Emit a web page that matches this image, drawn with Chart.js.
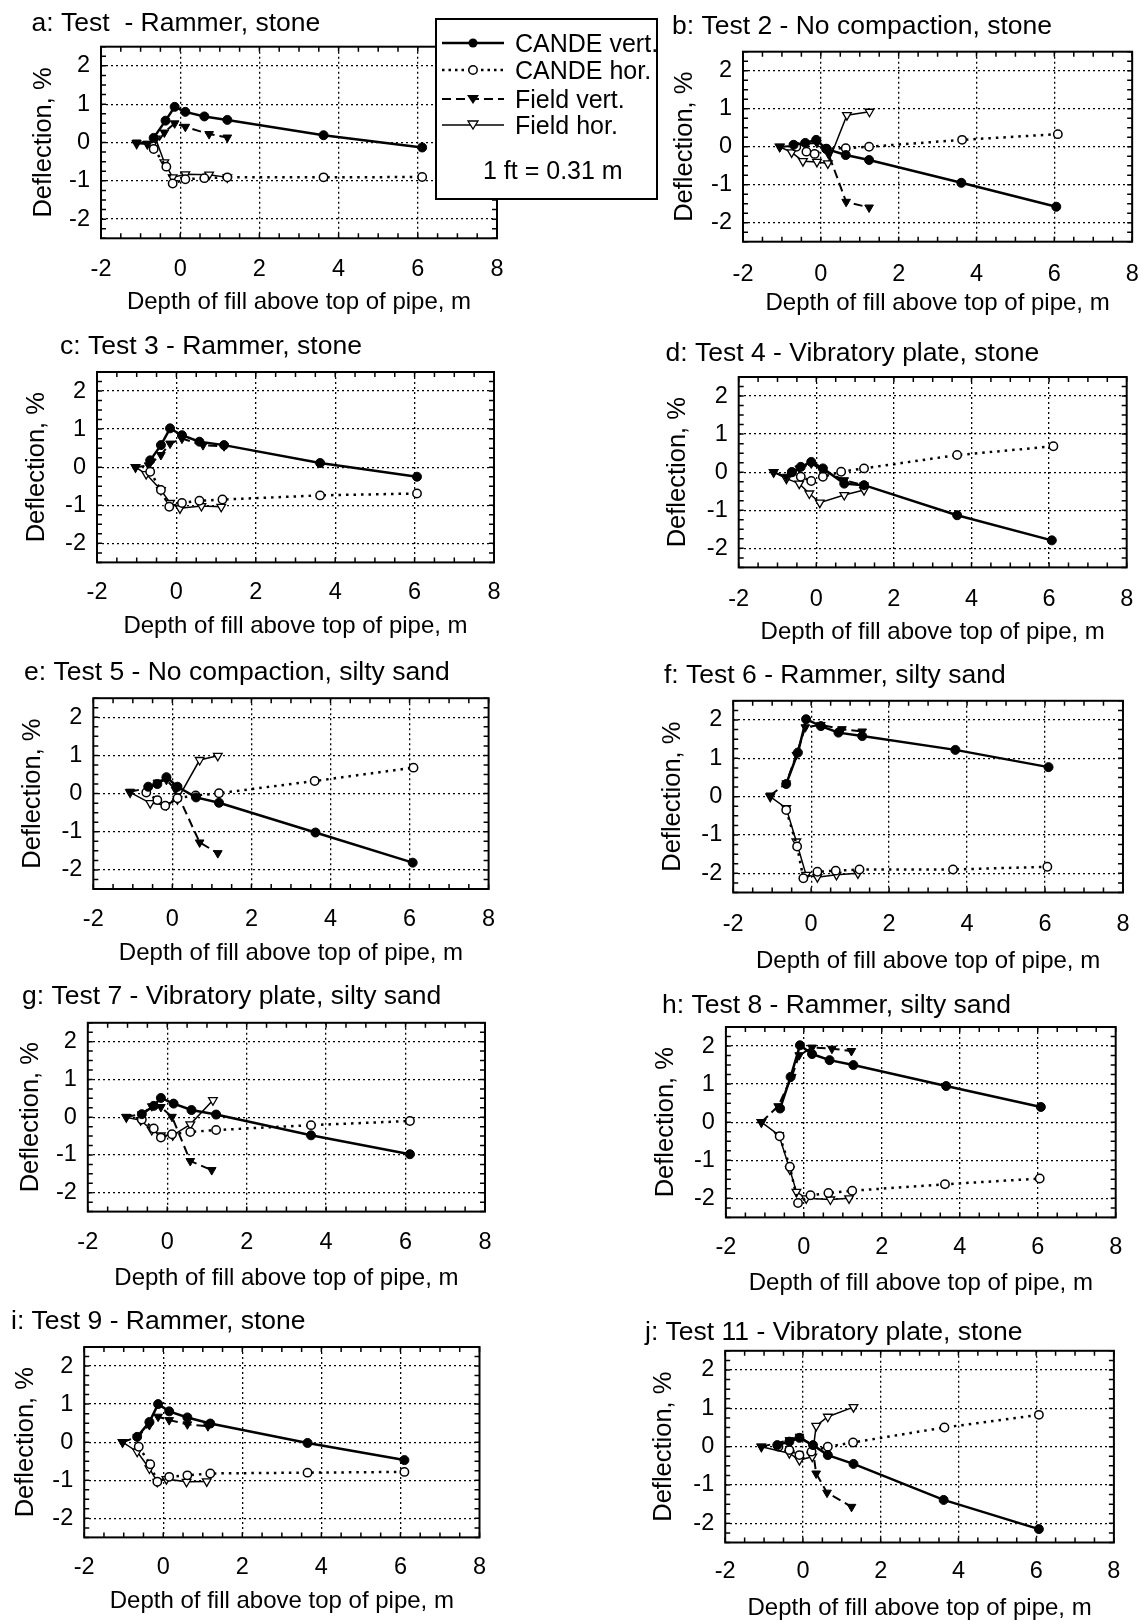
<!DOCTYPE html>
<html>
<head>
<meta charset="utf-8">
<script src="https://cdn.jsdelivr.net/npm/chart.js@4.4.1/dist/chart.umd.min.js"></script>
<style>
  body { margin: 0; background: #fff; width: 1148px; height: 1624px; overflow: hidden; position: relative;
         font-family: 'Liberation Sans', Arial, sans-serif; }
  canvas { position: absolute; }
  #legend { position: absolute; left: 435px; top: 18px; width: 223px; height: 182px; box-sizing: border-box;
            border: 2px solid #000; background: #fff; z-index: 5; }
  #legend .row { position: absolute; left: 5px; height: 26px; }
  #legend svg { position: absolute; left: 0; top: 5px; }
  #legend span { position: absolute; left: 73px; top: 0; font-size: 25px; line-height: 26px; color: #000; white-space: nowrap; }
  #legend .note { position: absolute; left: 46px; top: 137px; font-size: 25px; line-height: 26px; white-space: nowrap; }
</style>
</head>
<body>

<div id="legend">
  <div class="row" style="top:10px">
    <svg width="62" height="16"><line x1="0" y1="8" x2="62" y2="8" stroke="#000" stroke-width="2.5"/><circle cx="31" cy="8" r="4.5" fill="#000"/></svg>
    <span>CANDE vert.</span>
  </div>
  <div class="row" style="top:37px">
    <svg width="62" height="16"><line x1="0" y1="8" x2="62" y2="8" stroke="#000" stroke-width="2.5" stroke-dasharray="2.5 4"/><circle cx="31" cy="8" r="4.2" fill="#fff" stroke="#000" stroke-width="1.5"/></svg>
    <span>CANDE hor.</span>
  </div>
  <div class="row" style="top:66px">
    <svg width="62" height="16"><line x1="0" y1="8" x2="62" y2="8" stroke="#000" stroke-width="2" stroke-dasharray="9 5"/><polygon points="25,4 37,4 31,13" fill="#000"/></svg>
    <span>Field vert.</span>
  </div>
  <div class="row" style="top:92px">
    <svg width="62" height="16"><line x1="0" y1="8" x2="62" y2="8" stroke="#000" stroke-width="1.5"/><polygon points="26,4 36,4 31,12" fill="#fff" stroke="#000" stroke-width="1.3"/></svg>
    <span>Field hor.</span>
  </div>
  <div class="note">1 ft = 0.31 m</div>
</div>

<script>
// axes
const xTicks = [-2, 0, 2, 4, 6, 8];
const yTicks = [-2, -1, 0, 1, 2];
const xTitle = 'Depth of fill above top of pipe, m';
const yTitle = 'Deflection, %';

// [depth m, deflection %]
// a: Test - Rammer, stone
const aCandeVert = [[-0.67,0.12],[-0.37,0.57],[-0.14,0.93],[0.13,0.80],[0.61,0.68],[1.19,0.59],[3.62,0.19],[6.11,-0.13]];
const aCandeHor  = [[-0.67,-0.17],[-0.35,-0.63],[-0.19,-1.07],[0.13,-0.96],[0.61,-0.93],[1.19,-0.91],[3.62,-0.91],[6.11,-0.90]];
const aFieldVert = [[-1.1,0],[-0.83,-0.03],[-0.67,-0.15],[-0.4,0.26],[-0.14,0.5],[0.13,0.41],[0.73,0.22],[1.19,0.13]];
const aFieldHor  = [[-1.1,-0.03],[-0.83,-0.04],[-0.62,0.1],[-0.4,-0.52],[-0.19,-0.91],[0.13,-0.83],[0.73,-0.84],[1.19,-0.91]];

// b: Test 2 - No compaction, stone
const bCandeVert = [[-0.7,0.05],[-0.4,0.1],[-0.12,0.18],[0.14,-0.06],[0.64,-0.22],[1.24,-0.35],[3.61,-0.95],[6.05,-1.58]];
const bCandeHor  = [[-0.63,0],[-0.37,-0.13],[-0.16,-0.19],[0.14,-0.05],[0.64,-0.04],[1.24,0.0],[3.63,0.18],[6.09,0.33]];
const bFieldVert = [[-1.05,0],[-0.7,0.02],[-0.4,0.08],[-0.1,0.1],[0.2,-0.2],[0.65,-1.45],[1.24,-1.6]];
const bFieldHor  = [[-1.06,0],[-0.75,-0.15],[-0.46,-0.38],[-0.1,-0.4],[0.18,-0.44],[0.67,0.83],[1.25,0.92]];

// c: Test 3 - Rammer, stone
const cCandeVert = [[-0.66,0.18],[-0.39,0.58],[-0.16,1.02],[0.14,0.84],[0.58,0.67],[1.2,0.58],[3.62,0.11],[6.06,-0.25]];
const cCandeHor  = [[-0.66,-0.12],[-0.39,-0.6],[-0.18,-1.04],[0.14,-0.94],[0.58,-0.88],[1.16,-0.85],[3.62,-0.74],[6.06,-0.69]];
const cFieldVert = [[-1.03,0],[-0.7,0.05],[-0.39,0.32],[-0.16,0.62],[0.14,0.75],[0.67,0.58],[1.2,0.55]];
const cFieldHor  = [[-1.03,0],[-0.76,-0.18],[-0.39,-0.6],[-0.16,-0.94],[0.09,-1.08],[0.63,-1.02],[1.13,-1.04]];

// d: Test 4 - Vibratory plate, stone
const dCandeVert = [[-0.63,0],[-0.4,0.14],[-0.13,0.27],[0.17,0.1],[0.72,-0.3],[1.23,-0.34],[3.63,-1.13],[6.07,-1.79]];
const dCandeHor  = [[-0.63,0],[-0.4,-0.12],[-0.13,-0.23],[0.17,-0.12],[0.64,0.01],[1.23,0.1],[3.63,0.45],[6.11,0.68]];
const dFieldVert = [[-1.1,0],[-0.77,-0.12],[-0.44,0.1],[-0.13,0.23],[0.17,0.05],[0.72,-0.21],[1.23,-0.34]];
const dFieldHor  = [[-1.1,0],[-0.77,-0.17],[-0.44,-0.3],[-0.18,-0.56],[0.09,-0.8],[0.72,-0.6],[1.23,-0.47]];

// e: Test 5 - No compaction, silty sand
const eCandeVert = [[-0.61,0.18],[-0.38,0.25],[-0.15,0.43],[0.13,0.18],[0.6,-0.1],[1.18,-0.24],[3.62,-1.02],[6.08,-1.81]];
const eCandeHor  = [[-0.66,0.03],[-0.38,-0.17],[-0.18,-0.32],[0.13,-0.12],[0.59,-0.05],[1.18,0.01],[3.6,0.33],[6.1,0.68]];
const eFieldVert = [[-1.07,0.05],[-0.6,0.15],[-0.38,0.29],[-0.15,0.36],[0.08,0.1],[0.69,-1.28],[1.15,-1.56]];
const eFieldHor  = [[-1.07,0.03],[-0.56,-0.25],[-0.15,-0.3],[0.13,-0.15],[0.69,0.88],[1.15,0.99]];

// f: Test 6 - Rammer, silty sand
const fCandeVert = [[-0.64,0.33],[-0.34,1.15],[-0.13,2.02],[0.25,1.84],[0.7,1.67],[1.31,1.58],[3.7,1.22],[6.09,0.77]];
const fCandeHor  = [[-0.64,-0.35],[-0.36,-1.3],[-0.2,-2.13],[0.16,-1.96],[0.63,-1.93],[1.24,-1.9],[3.64,-1.9],[6.06,-1.83]];
const fFieldVert = [[-1.05,0.03],[-0.64,0.35],[-0.38,1.09],[-0.15,1.81],[0.25,1.87],[0.79,1.76],[1.31,1.7]];
const fFieldHor  = [[-1.05,0],[-0.64,-0.3],[-0.38,-1.17],[-0.13,-2.04],[0.16,-2.1],[0.65,-2.04],[1.2,-2.0]];

// g: Test 7 - Vibratory plate, silty sand
const gCandeVert = [[-0.64,0.08],[-0.34,0.3],[-0.16,0.51],[0.16,0.36],[0.61,0.19],[1.23,0.07],[3.62,-0.48],[6.11,-0.98]];
const gCandeHor  = [[-0.64,-0.06],[-0.34,-0.3],[-0.16,-0.54],[0.12,-0.45],[0.58,-0.39],[1.23,-0.34],[3.62,-0.21],[6.11,-0.1]];
const gFieldVert = [[-1.03,0.01],[-0.64,0.08],[-0.39,0.29],[-0.16,0.27],[0.12,0.01],[0.58,-1.16],[1.12,-1.4]];
const gFieldHor  = [[-1.03,0],[-0.67,-0.08],[-0.39,-0.34],[-0.16,-0.48],[0.14,-0.48],[0.58,-0.19],[1.15,0.45]];

// h: Test 8 - Rammer, silty sand
const hCandeVert = [[-0.61,0.36],[-0.34,1.19],[-0.1,2.02],[0.21,1.79],[0.66,1.63],[1.27,1.5],[3.65,0.95],[6.08,0.4]];
const hCandeHor  = [[-0.62,-0.37],[-0.36,-1.17],[-0.15,-2.12],[0.17,-1.92],[0.63,-1.86],[1.24,-1.8],[3.62,-1.63],[6.05,-1.48]];
const hFieldVert = [[-1.09,0],[-0.66,0.42],[-0.31,1.19],[-0.12,1.76],[0.21,1.96],[0.72,1.93],[1.22,1.87]];
const hFieldHor  = [[-1.09,0],[-0.64,-0.34],[-0.36,-1.24],[-0.19,-1.83],[0.06,-2.0],[0.68,-2.03],[1.16,-2.0]];

// i: Test 9 - Rammer, stone
const iCandeVert = [[-0.66,0.14],[-0.35,0.53],[-0.13,1.0],[0.15,0.81],[0.61,0.65],[1.19,0.49],[3.65,-0.02],[6.1,-0.47]];
const iCandeHor  = [[-0.62,-0.12],[-0.33,-0.58],[-0.15,-1.04],[0.15,-0.91],[0.61,-0.87],[1.19,-0.82],[3.65,-0.8],[6.1,-0.78]];
const iFieldVert = [[-1.03,0],[-0.66,0.14],[-0.35,0.45],[-0.13,0.67],[0.15,0.58],[0.61,0.47],[1.13,0.42]];
const iFieldHor  = [[-1.03,0],[-0.66,-0.25],[-0.35,-0.69],[-0.15,-1.04],[0.08,-0.97],[0.59,-1.04],[1.1,-1.03]];

// j: Test 11 - Vibratory plate, stone
const jCandeVert = [[-0.66,0.04],[-0.35,0.13],[-0.09,0.23],[0.26,0.04],[0.64,-0.22],[1.3,-0.45],[3.62,-1.39],[6.07,-2.15]];
const jCandeHor  = [[-0.63,0],[-0.35,-0.09],[-0.09,-0.22],[0.22,-0.13],[0.64,0.0],[1.29,0.11],[3.64,0.5],[6.07,0.83]];
const jFieldVert = [[-1.07,0],[-0.35,0.17],[-0.09,0.26],[0.24,0.04],[0.34,-0.7],[0.62,-1.2],[1.25,-1.57]];
const jFieldHor  = [[-1.07,0],[-0.35,-0.17],[-0.09,-0.35],[0.24,-0.26],[0.34,0.54],[0.64,0.78],[1.3,1.03]];

// page layout of each panel (plot box edges, title spot, tick / axis title rows)
const panels = [
  { title: 'a: Test  - Rammer, stone', L: 101, R: 497, T: 46.7, B: 238.3, tx: 31.6, ty: 24, tickY: 268, xtY: 302, ylX: 44,
    d: [aCandeVert, aCandeHor, aFieldVert, aFieldHor] },
  { title: 'b: Test 2 - No compaction, stone', L: 743, R: 1133, T: 51.7, B: 241.7, tx: 672, ty: 26.7, tickY: 273, xtY: 303, ylX: 685,
    d: [bCandeVert, bCandeHor, bFieldVert, bFieldHor] },
  { title: 'c: Test 3 - Rammer, stone', L: 97, R: 494, T: 372, B: 562.4, tx: 60, ty: 347, tickY: 591.7, xtY: 626.7, ylX: 36.6,
    d: [cCandeVert, cCandeHor, cFieldVert, cFieldHor] },
  { title: 'd: Test 4 - Vibratory plate, stone', L: 738.7, R: 1126.7, T: 377, B: 567.4, tx: 665.5, ty: 354, tickY: 598, xtY: 632, ylX: 678,
    d: [dCandeVert, dCandeHor, dFieldVert, dFieldHor] },
  { title: 'e: Test 5 - No compaction, silty sand', L: 93.3, R: 488.6, T: 698.2, B: 889, tx: 24, ty: 672.5, tickY: 918, xtY: 953, ylX: 33,
    d: [eCandeVert, eCandeHor, eFieldVert, eFieldHor] },
  { title: 'f: Test 6 - Rammer, silty sand', L: 733.2, R: 1123, T: 700.8, B: 892.5, tx: 664, ty: 675.8, tickY: 923, xtY: 961.7, ylX: 673,
    d: [fCandeVert, fCandeHor, fFieldVert, fFieldHor] },
  { title: 'g: Test 7 - Vibratory plate, silty sand', L: 87.8, R: 485, T: 1022.8, B: 1211.6, tx: 22, ty: 996.7, tickY: 1241.7, xtY: 1278, ylX: 31,
    d: [gCandeVert, gCandeHor, gFieldVert, gFieldHor] },
  { title: 'h: Test 8 - Rammer, silty sand', L: 725.9, R: 1115.7, T: 1027, B: 1217.4, tx: 662, ty: 1005.8, tickY: 1246.7, xtY: 1283, ylX: 665.5,
    d: [hCandeVert, hCandeHor, hFieldVert, hFieldHor] },
  { title: 'i: Test 9 - Rammer, stone', L: 84.2, R: 479.5, T: 1347, B: 1537.4, tx: 11, ty: 1321.7, tickY: 1566.7, xtY: 1601.7, ylX: 25.6,
    d: [iCandeVert, iCandeHor, iFieldVert, iFieldHor] },
  { title: 'j: Test 11 - Vibratory plate, stone', L: 725.2, R: 1113.9, T: 1350.8, B: 1542.5, tx: 645, ty: 1332.5, tickY: 1570, xtY: 1608.3, ylX: 663.7,
    d: [jCandeVert, jCandeHor, jFieldVert, jFieldHor] }
];

const FONT = "'Liberation Sans', Arial, sans-serif";
const X_FONT = 24, Y_FONT = 25.5, TICK_FONT = 23.5, TITLE_FONT = 26.5;
Chart.defaults.font.family = FONT;
Chart.defaults.color = '#000';

// plot frame with small inward ticks
const framePlugin = {
  id: 'frame',
  beforeDatasetsDraw(chart) {
    const { ctx, chartArea: a, scales: { x, y } } = chart;
    ctx.save();
    ctx.strokeStyle = '#000';
    ctx.lineWidth = 1.5;
    ctx.beginPath();
    for (let v = -2; v <= 8.001; v += 0.5) {
      const px = x.getPixelForValue(v);
      ctx.moveTo(px, a.bottom); ctx.lineTo(px, a.bottom - 5);
      ctx.moveTo(px, a.top); ctx.lineTo(px, a.top + 5);
    }
    for (let v = -2.5; v <= 2.501; v += 0.25) {
      const py = y.getPixelForValue(v);
      ctx.moveTo(a.left, py); ctx.lineTo(a.left + 5, py);
      ctx.moveTo(a.right, py); ctx.lineTo(a.right - 5, py);
    }
    ctx.stroke();
    ctx.lineWidth = 2;
    ctx.strokeRect(a.left, a.top, a.right - a.left, a.bottom - a.top);
    ctx.restore();
  }
};

// panel caption, left aligned above the plot
const captionPlugin = {
  id: 'caption',
  afterDraw(chart, args, opts) {
    const { ctx } = chart;
    ctx.save();
    ctx.font = TITLE_FONT + 'px ' + FONT;
    ctx.fillStyle = '#000';
    ctx.textBaseline = 'middle';
    ctx.textAlign = 'left';
    ctx.fillText(opts.text, opts.x, opts.y);
    ctx.restore();
  }
};

function makeDatasets(d) {
  return [
    { label: 'CANDE vert.', data: d[0], showLine: true, borderColor: '#000', borderWidth: 2.5,
      pointStyle: 'circle', pointRadius: 4.5, pointBackgroundColor: '#000', pointBorderColor: '#000', pointBorderWidth: 1 },
    { label: 'CANDE hor.', data: d[1], showLine: true, borderColor: '#000', borderWidth: 2.5, borderDash: [2.5, 5],
      pointStyle: 'circle', pointRadius: 4.2, pointBackgroundColor: '#fff', pointBorderColor: '#000', pointBorderWidth: 1.5 },
    { label: 'Field vert.', data: d[2], showLine: true, borderColor: '#000', borderWidth: 2, borderDash: [9, 5],
      pointStyle: 'triangle', rotation: 180, pointRadius: 5, pointBackgroundColor: '#000', pointBorderColor: '#000', pointBorderWidth: 1 },
    { label: 'Field hor.', data: d[3], showLine: true, borderColor: '#000', borderWidth: 1.5,
      pointStyle: 'triangle', rotation: 180, pointRadius: 5, pointBackgroundColor: '#fff', pointBorderColor: '#000', pointBorderWidth: 1.3 }
  ];
}

panels.forEach(p => {
  const yLh = Y_FONT * 1.2, xLh = X_FONT * 1.2;
  const scaleLeft = p.ylX - yLh / 2;          // y title centre sits lh/2 inside the scale box
  const cl = Math.floor(Math.min(p.tx - 2, scaleLeft - 2));
  const ct = Math.floor(p.ty - 22);
  const xH = p.xtY + xLh / 2 - p.B;           // height of the x scale box
  const cr = Math.ceil(p.R + 24);
  const cb = Math.ceil(p.B + xH + 4);

  const canvas = document.createElement('canvas');
  canvas.width = cr - cl;
  canvas.height = cb - ct;
  canvas.style.left = cl + 'px';
  canvas.style.top = ct + 'px';
  document.body.appendChild(canvas);

  new Chart(canvas, {
    type: 'scatter',
    data: { datasets: makeDatasets(p.d) },
    options: {
      responsive: false,
      animation: false,
      layout: { padding: { left: scaleLeft - cl, top: p.T - ct, right: cr - p.R, bottom: cb - (p.B + xH) } },
      elements: { line: { tension: 0 } },
      plugins: {
        legend: { display: false },
        tooltip: { enabled: false },
        caption: { text: p.title, x: p.tx - cl, y: p.ty - ct }
      },
      scales: {
        x: {
          type: 'linear', min: -2, max: 8,
          afterBuildTicks: s => { s.ticks = xTicks.map(v => ({ value: v })); },
          afterFit: s => { s.height = xH; },
          ticks: { padding: p.tickY - p.B - 13, font: { size: TICK_FONT }, color: '#000',
                   maxRotation: 0, autoSkip: false, callback: v => String(v) },
          grid: { color: c => (c.tick && (c.tick.value === -2 || c.tick.value === 8)) ? 'rgba(0,0,0,0)' : '#000',
                  lineWidth: 1.3, drawTicks: false },
          border: { display: false, dash: [2, 3] },
          title: { display: true, text: xTitle, font: { size: X_FONT }, color: '#000', padding: 0 }
        },
        y: {
          type: 'linear', min: -2.5, max: 2.5,
          afterBuildTicks: s => { s.ticks = yTicks.map(v => ({ value: v })); },
          afterFit: s => { s.width = p.L - scaleLeft; },
          ticks: { padding: 11, font: { size: TICK_FONT }, color: '#000', autoSkip: false, callback: v => String(v) },
          grid: { color: '#000', lineWidth: 1.3, drawTicks: false },
          border: { display: false, dash: [2, 3] },
          title: { display: true, text: yTitle, font: { size: Y_FONT }, color: '#000', padding: 0 }
        }
      }
    },
    plugins: [framePlugin, captionPlugin]
  });
});
</script>
</body>
</html>
